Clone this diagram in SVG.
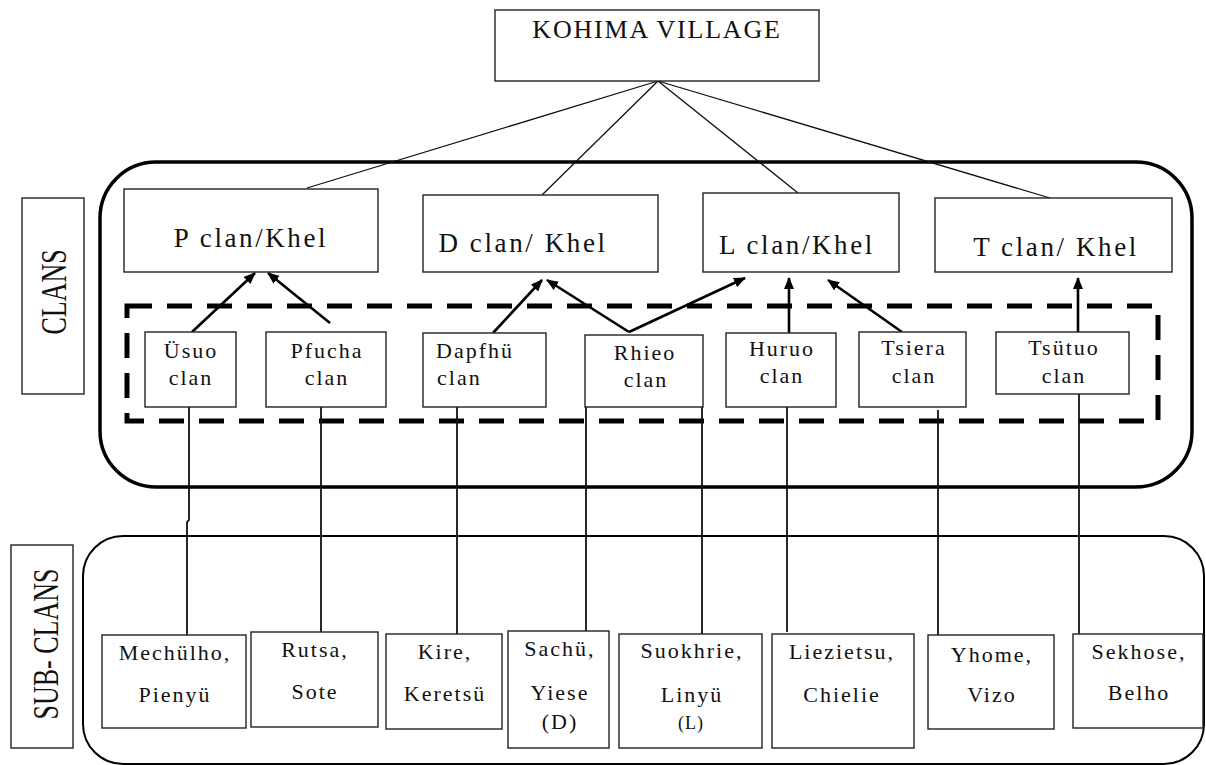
<svg xmlns="http://www.w3.org/2000/svg" width="1206" height="765" viewBox="0 0 1206 765">
<style>
.bx{fill:#fff;stroke:#222;stroke-width:1.4}
.ct{fill:none;stroke:#000;stroke-width:3.5}
.sub{fill:none;stroke:#000;stroke-width:2}
.t{font-family:"Liberation Serif","Times New Roman",serif;fill:#111;text-anchor:middle}
.big{font-size:27px;letter-spacing:2.6px}
.top{font-size:26px;letter-spacing:1.8px}
.sm{font-size:22px;letter-spacing:2px}
.thin{stroke:#111;stroke-width:1.3;fill:none}
.ar{stroke:#000;stroke-width:2.6;fill:none;marker-end:url(#ah)}
.vl{stroke:#111;stroke-width:1.8;fill:none}
.dash{fill:none;stroke:#000;stroke-width:5;stroke-dasharray:25 15}
</style>
<defs>
<marker id="ah" markerUnits="userSpaceOnUse" markerWidth="12" markerHeight="10" refX="11" refY="5" orient="auto">
<path d="M0,0 L12,5 L0,10 z" fill="#000"/>
</marker>
</defs>
<rect width="1206" height="765" fill="#fff"/>

<g id="containers">
<rect class="ct" x="100" y="162" width="1092" height="325" rx="56" ry="56"/>
<rect class="sub" x="83" y="536" width="1121" height="228" rx="40" ry="40"/>
<rect class="dash" x="127" y="306" width="1031" height="115"/>
</g>

<g id="label-clans">
<rect class="bx" x="22" y="198" width="62" height="196"/>
<text class="t" font-size="26" transform="translate(66,292) rotate(-90) scale(1,1.35)">CLANS</text>
</g>
<g id="label-subclans">
<rect class="bx" x="11" y="545" width="62" height="203"/>
<text class="t" font-size="26" transform="translate(58,644) rotate(-90) scale(1,1.35)">SUB- CLANS</text>
</g>

<g id="connectors">
<path class="thin" d="M658,81 L307,188 M658,81 L542,195 M658,81 L798,193 M658,81 L1050,198"/>
<path class="ar" d="M192,332 L255,273"/>
<path class="ar" d="M330,323 L268,273"/>
<path class="ar" d="M493,333 L542,280"/>
<path class="ar" d="M629,332 L547,280"/>
<path class="ar" d="M629,332 L745,278"/>
<path class="ar" d="M789,333 L789,278"/>
<path class="ar" d="M902,332 L828,280"/>
<path class="ar" d="M1078,332 L1078,278"/>
<path class="vl" d="M189,407 V520 L187,522 V635"/>
<path class="vl" d="M321,407 V632"/>
<path class="vl" d="M457,407 V634"/>
<path class="vl" d="M586,407 V631"/>
<path class="vl" d="M702,407 V634"/>
<path class="vl" d="M787,407 V632"/>
<path class="vl" d="M938,410 V635"/>
<path class="vl" d="M1079,394 V635"/>
</g>

<g id="kohima">
<rect class="bx" x="495" y="10" width="324" height="71"/>
<text class="t top" x="657" y="38">KOHIMA VILLAGE</text>
</g>

<g id="p-clan">
<rect class="bx" x="124" y="189" width="254" height="83"/>
<text class="t big" x="251" y="247">P clan/Khel</text>
</g>
<g id="d-clan">
<rect class="bx" x="423" y="195" width="235" height="77"/>
<text class="t big" x="523" y="252">D clan/ Khel</text>
</g>
<g id="l-clan">
<rect class="bx" x="703" y="193" width="196" height="79"/>
<text class="t big" x="797" y="254">L clan/Khel</text>
</g>
<g id="t-clan">
<rect class="bx" x="935" y="198" width="237" height="74"/>
<text class="t big" x="1056" y="256">T clan/ Khel</text>
</g>

<g id="usuo">
<rect class="bx" x="145" y="332" width="91" height="75"/>
<text class="t sm" x="191" y="358">Üsuo</text>
<text class="t sm" x="191" y="385">clan</text>
</g>
<g id="pfucha">
<rect class="bx" x="266" y="332" width="120" height="75"/>
<text class="t sm" x="327" y="358">Pfucha</text>
<text class="t sm" x="327" y="385">clan</text>
</g>
<g id="dapfhu">
<rect class="bx" x="423" y="333" width="123" height="74"/>
<text class="t sm" x="436" y="358" style="text-anchor:start">Dapfhü</text>
<text class="t sm" x="437" y="385" style="text-anchor:start">clan</text>
</g>
<g id="rhieo">
<rect class="bx" x="585" y="335" width="118" height="72"/>
<text class="t sm" x="645" y="360">Rhieo</text>
<text class="t sm" x="646" y="387">clan</text>
</g>
<g id="huruo">
<rect class="bx" x="726" y="333" width="110" height="74"/>
<text class="t sm" x="782" y="356">Huruo</text>
<text class="t sm" x="782" y="383">clan</text>
</g>
<g id="tsiera">
<rect class="bx" x="859" y="332" width="107" height="75"/>
<text class="t sm" x="914" y="355">Tsiera</text>
<text class="t sm" x="914" y="383">clan</text>
</g>
<g id="tsutuo">
<rect class="bx" x="996" y="332" width="133" height="62"/>
<text class="t sm" x="1064" y="355">Tsütuo</text>
<text class="t sm" x="1064" y="383">clan</text>
</g>

<g id="mechulho">
<rect class="bx" x="102" y="635" width="144" height="93"/>
<text class="t sm" x="175" y="660">Mechülho,</text>
<text class="t sm" x="175" y="702">Pienyü</text>
</g>
<g id="rutsa">
<rect class="bx" x="251" y="632" width="127" height="95"/>
<text class="t sm" x="315" y="657">Rutsa,</text>
<text class="t sm" x="315" y="699">Sote</text>
</g>
<g id="kire">
<rect class="bx" x="386" y="634" width="116" height="95"/>
<text class="t sm" x="445" y="659">Kire,</text>
<text class="t sm" x="445" y="701">Keretsü</text>
</g>
<g id="sachu">
<rect class="bx" x="508" y="631" width="101" height="117"/>
<text class="t sm" x="560" y="656">Sachü,</text>
<text class="t sm" x="560" y="700">Yiese</text>
<text class="t sm" x="560" y="729">(D)</text>
</g>
<g id="suokhrie">
<rect class="bx" x="619" y="634" width="143" height="114"/>
<text class="t sm" x="692" y="658">Suokhrie,</text>
<text class="t sm" x="692" y="702">Linyü</text>
<text class="t" font-size="18" letter-spacing="1" x="691" y="729">(L)</text>
</g>
<g id="liezietsu">
<rect class="bx" x="772" y="634" width="142" height="114"/>
<text class="t sm" x="842" y="659">Liezietsu,</text>
<text class="t sm" x="842" y="702">Chielie</text>
</g>
<g id="yhome">
<rect class="bx" x="928" y="635" width="126" height="94"/>
<text class="t sm" x="992" y="662">Yhome,</text>
<text class="t sm" x="992" y="702">Vizo</text>
</g>
<g id="sekhose">
<rect class="bx" x="1073" y="634" width="130" height="94"/>
<text class="t sm" x="1139" y="659">Sekhose,</text>
<text class="t sm" x="1139" y="700">Belho</text>
</g>
</svg>
